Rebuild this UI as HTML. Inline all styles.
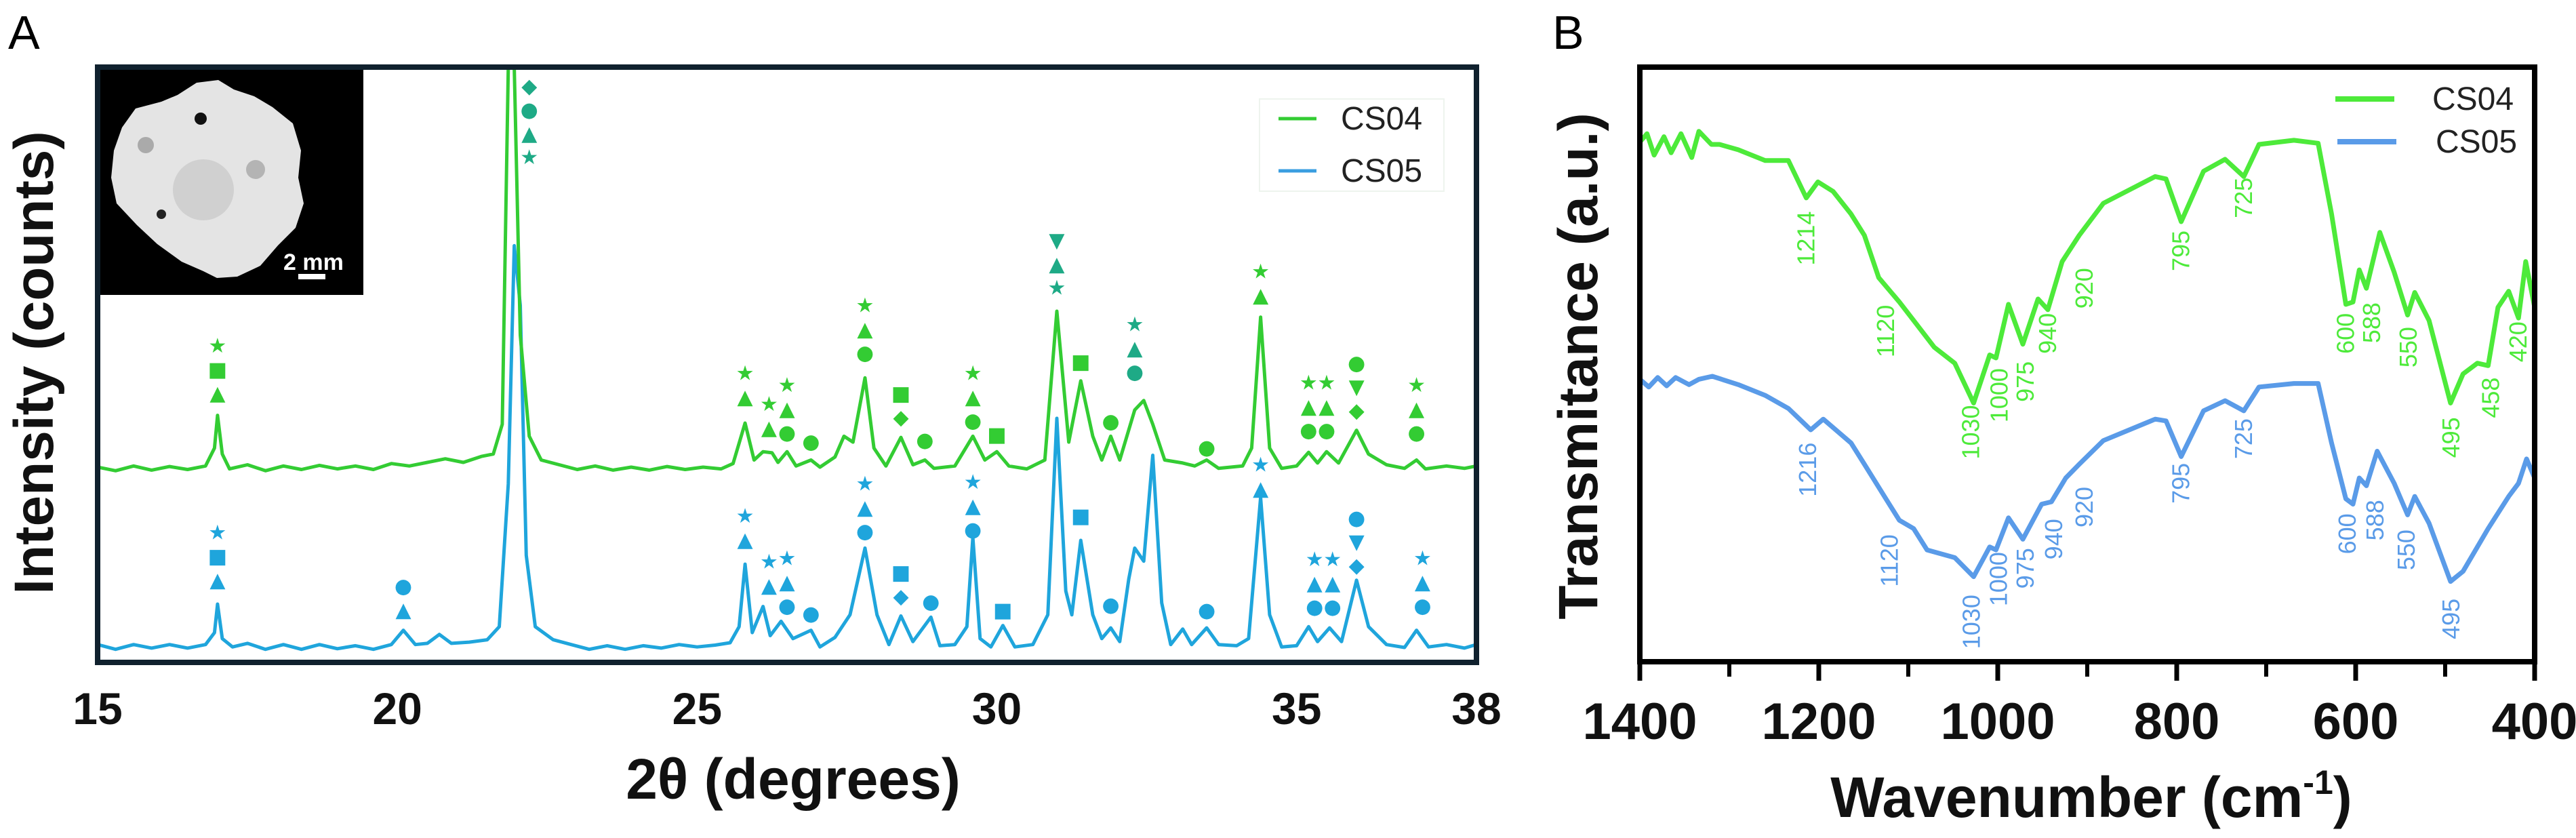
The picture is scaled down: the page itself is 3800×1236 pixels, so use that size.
<!DOCTYPE html>
<html><head><meta charset="utf-8">
<style>
html,body{margin:0;padding:0;background:#fff;}
svg{display:block;font-family:"Liberation Sans","DejaVu Sans",sans-serif;}
</style></head>
<body>
<svg id="fig" width="3800" height="1236" viewBox="0 0 3800 1236" xmlns="http://www.w3.org/2000/svg">
  <text x="12" y="72" font-size="70" fill="#000">A</text>
  <text x="2290" y="72" font-size="70" fill="#000">B</text>
  <g id="xrd"></g>
  <g id="ftir"></g>
</svg>
<script>
// ---------- XRD data ----------
const xrdTicks = [15, 20, 25, 30, 35, 38];
const cs04X = [15.0,15.3,15.6,15.9,16.2,16.5,16.8,16.95,17.0,17.08,17.2,17.5,17.8,18.1,18.4,18.7,19.0,19.3,19.6,19.9,20.2,20.5,20.8,21.1,21.4,21.6,21.75,21.85,21.95,22.05,22.2,22.4,22.7,23.0,23.3,23.6,23.9,24.2,24.5,24.8,25.1,25.4,25.6,25.8,25.95,26.1,26.25,26.35,26.5,26.65,26.9,27.05,27.3,27.45,27.6,27.8,27.95,28.15,28.4,28.6,28.8,28.95,29.3,29.6,29.8,30.0,30.2,30.5,30.8,31.0,31.2,31.4,31.6,31.75,31.9,32.05,32.3,32.45,32.6,32.8,33.1,33.3,33.5,33.7,34.1,34.25,34.4,34.55,34.75,35.0,35.2,35.35,35.5,35.7,36.0,36.2,36.5,36.8,37.0,37.15,37.5,37.8,38.0];
const cs04Y = [32.8,32.2,33.0,32.3,32.9,32.4,33.0,36,41.5,35,32.5,33.2,32.2,33.0,32.4,33.1,32.5,33.0,32.4,33.4,33.0,33.6,34.2,33.6,34.6,35.0,40,100,100,55,38,34,33.2,32.4,33.0,32.3,32.8,32.3,32.9,32.4,32.8,32.5,33.4,40.2,34,35.4,35.2,33.6,35.4,33,34,32.8,34.5,38,37,47.8,36,33,37.8,33.2,34,32.6,33,38,34,35.4,33,32.5,34,59,37,47.3,38,34,38,34,42.4,44,40,34,33.5,33,34,32.6,33,36,58,36,32.6,33,35.3,33.5,35.4,33.5,39,35,33.2,32.6,34,32.5,33,32.6,33];
const cs05X = [15.0,15.3,15.6,15.9,16.2,16.5,16.8,16.95,17.0,17.08,17.25,17.5,17.8,18.1,18.4,18.7,19.0,19.3,19.6,19.9,20.1,20.3,20.5,20.7,20.9,21.2,21.5,21.7,21.85,21.95,22.05,22.15,22.3,22.6,22.9,23.2,23.5,23.8,24.1,24.4,24.7,25.0,25.3,25.55,25.7,25.8,25.92,26.1,26.22,26.4,26.6,26.9,27.05,27.3,27.55,27.8,28.0,28.2,28.4,28.6,28.9,29.05,29.3,29.5,29.6,29.72,29.9,30.1,30.3,30.6,30.85,31.0,31.15,31.25,31.4,31.6,31.75,31.9,32.05,32.2,32.3,32.45,32.6,32.75,32.9,33.1,33.25,33.5,33.7,34.0,34.2,34.4,34.55,34.75,35.0,35.2,35.35,35.55,35.75,36.0,36.2,36.5,36.8,37.0,37.2,37.5,37.8,38.0];
const cs05Y = [3,2.2,3.0,2.4,3.0,2.4,3.0,5,9.8,4,2.6,3.2,2.2,3.0,2.2,3.0,2.3,2.8,2.2,3.0,5.4,3.0,3.2,4.7,3.2,3.4,3.8,6,30,70,60,18,6,3.8,3.0,2.2,2.8,2.2,2.8,2.4,3.0,2.6,2.9,3.3,6,16.5,5,9.4,4.5,6.9,4,5.4,2.6,4.2,8,19.2,8,3,7.8,3.5,7.6,2.8,3,6,21,4,2.6,6.2,2.6,3,8,41,12,8,20.5,8,4,5.8,3.5,14,19.2,17,34.8,10,3,5.6,3,5.8,3,2.8,4,27.7,8,2.6,2.8,6,3.5,5.8,3.5,13.8,6,3,2.5,5.4,2.6,3,2.4,3];
const annG_X = [17.0,22.2,25.8,26.2,26.5,26.9,27.8,28.4,28.8,29.6,30.0,31.0,31.4,31.9,32.3,33.5,34.4,35.2,35.5,36.0,37.0];
const annG_V = [53.3,96.9,48.7,43.5,46.7,37.2,60.1,45.3,37.5,48.7,38.4,71,50.6,40.6,56.9,36.2,65.8,47.1,47.1,50.4,46.7];
const annG_S = ["★■▲","◆●▲★","★▲","★▲","★▲●","●","★▲●","■◆","●","★▲●","■","▼▲★","■","●","★▲●","●","★▲","★▲●","★▲●","●▼◆","★▲●"];
const annG_T = [0,1,0,0,0,0,0,0,0,0,0,1,0,0,1,0,0,0,0,0,0];
const annB_X = [17.0,20.1,25.8,26.2,26.5,26.9,27.8,28.4,28.9,29.6,30.1,31.4,31.9,33.5,34.4,35.3,35.6,36.0,37.1];
const annB_V = [21.9,12.9,24.7,17,17.6,8.3,30.1,15.2,10.3,30.4,8.9,24.7,9.8,8.9,33.3,17.4,17.4,24.4,17.6];
const annB_S = ["★■▲","●▲","★▲","★▲","★▲●","●","★▲●","■◆","●","★▲●","■","■","●","●","★▲","★▲●","★▲●","●▼◆","★▲●"];

// ---------- FTIR data ----------
const ftirTicks = [1400,1200,1000,800,600,400];
const ftirMinor = [1300,1100,900,700,500];
const ftG_W = [1400,1392,1384,1373,1365,1354,1342,1334,1320,1311,1290,1260,1234,1214,1201,1184,1164,1149,1133,1110,1094,1071,1048,1027,1009,1002,988,972,955,944,928,909,882,824,812,795,770,746,725,708,669,642,627,611,603,596,588,573,557,542,534,518,494,480,464,452,441,429,418,410,400];
const ftG_T = [87.4,88.8,85.2,88.3,85.6,88.8,84.8,89.2,87.0,87.0,86.1,84.3,84.3,78.0,80.7,79.1,75.3,71.7,64.6,60.5,57.4,52.9,50.2,43.5,51.6,51.1,60.1,53.4,61.0,59.2,67.3,71.7,77.1,81.6,81.2,74.0,82.5,84.5,81.6,87.0,87.7,87.2,75.3,60.1,60.5,65.9,62.8,72.2,65.5,58.3,62.1,57.4,43.5,48.4,50.2,49.8,59.6,62.3,57.8,67.3,59.6];
const ftB_W = [1400,1390,1380,1370,1360,1345,1334,1319,1290,1260,1234,1209,1195,1164,1149,1125,1110,1094,1079,1048,1027,1009,1002,988,972,951,940,924,909,882,824,812,795,770,746,725,708,669,642,627,611,603,596,588,576,557,542,534,518,494,480,452,429,418,409,400];
const ftB_T = [47.5,46.2,47.8,46.4,47.8,46.6,47.5,48.0,46.6,44.8,42.6,39.0,40.8,36.8,33.2,27.4,23.8,22.4,18.8,17.5,14.3,19.3,18.8,24.2,20.6,26.5,26.9,30.9,33.2,37.2,40.8,40.5,34.5,42.2,43.9,42.2,46.2,46.8,46.8,36.8,27.4,26.5,30.9,29.6,35.4,30.0,24.7,27.8,23.3,13.5,15.2,22.4,27.8,30.0,34.1,30.9];
const labG_Text = ["1214","1120","1030","1000","975","940","920","795","725","600","588","550","495","458","420"];
const labG_W = [1214,1125,1030,998,969,944,903,795,725,611,582,541,493,449,418];
const labG_V = [71.2,55.6,38.6,44.8,47.1,55.2,62.8,69.1,78.0,55.2,57,52.9,37.7,44.4,53.8];
const labB_Text = ["1216","1120","1030","1000","975","940","920","795","725","600","588","550","495"];
const labB_W = [1212,1121,1029,999,969,937,903,795,725,609,578,543,493];
const labB_V = [32.3,17.0,6.7,13.9,15.7,20.6,26.0,30.0,37.5,21.5,23.8,18.8,7.2];

const NS = "http://www.w3.org/2000/svg";
function mk(tag, attrs, parent, txt){
  const e = document.createElementNS(NS, tag);
  for (const k in attrs) e.setAttribute(k, attrs[k]);
  if (txt !== undefined) e.textContent = txt;
  parent.appendChild(e);
  return e;
}

// ===== Panel A: XRD =====
(function(){
  const g = document.getElementById('xrd');
  const L=144, R=2178, T=99, B=977;
  const xS = v => L + (v-15)/(38-15)*(R-L);
  const yS = v => B - v/100*(B-T);

  const clip = mk('clipPath',{id:'clipA'},g);
  mk('rect',{x:L,y:T,width:R-L,height:B-T},clip);

  const inset = mk('g',{},g);
  
  
  mk('rect',{x:L,y:T,width:392,height:336,fill:'#000'},inset);
  mk('path',{d:'M200,160 L238,150 L262,140 L290,122 L322,118 L345,132 L375,142 L402,158 L432,182 L444,222 L440,262 L448,300 L436,336 L410,362 L384,392 L350,408 L320,410 L300,400 L268,386 L232,360 L202,332 L172,300 L164,262 L168,222 L180,188 Z',fill:'#e4e4e4'},inset);
  mk('circle',{cx:300,cy:280,r:45,fill:'#d0d0d0'},inset);
  mk('circle',{cx:296,cy:175,r:9,fill:'#111'},inset);
  mk('circle',{cx:215,cy:214,r:12,fill:'#aaa'},inset);
  mk('circle',{cx:377,cy:250,r:14,fill:'#b4b4b4'},inset);
  mk('circle',{cx:238,cy:316,r:7,fill:'#222'},inset);
  mk('text',{x:418,y:398,'font-size':34,'font-weight':'bold',fill:'#fff'},inset,'2 mm');
  mk('rect',{x:440,y:404,width:40,height:8,fill:'#fff'},inset);

  function line(xs, ys, color, name){
    let d='';
    for (let i=0;i<xs.length;i++) d += (i?'L':'M') + xS(xs[i]).toFixed(1)+','+yS(ys[i]).toFixed(1);
    const p = mk('path',{d:d,fill:'none',stroke:color,'stroke-width':5,'stroke-linejoin':'round','clip-path':'url(#clipA)'},g);
    
    
  }
  line(cs05X, cs05Y, '#1fa5dc', 'cs05-xrd-line');
  line(cs04X, cs04Y, '#33cc33', 'cs04-xrd-line');

  function ann(xs, vs, ss, col, teal, name){
    for (let i=0;i<xs.length;i++){
      const a = mk('g',{},g);
      
      
      const c = (teal && teal[i]) ? '#1eaa86' : col;
      const chars = Array.from(ss[i]);
      chars.forEach((ch,k)=>{
        mk('text',{x:xS(xs[i]),y:yS(vs[i])+k*35+11,'font-size':30,'text-anchor':'middle',fill:c,'font-family':'DejaVu Sans, sans-serif'},a,ch);
      });
    }
  }
  ann(annG_X, annG_V, annG_S, '#33cc33', annG_T, 'cs04-phase-marker');
  ann(annB_X, annB_V, annB_S, '#1fa5dc', null, 'cs05-phase-marker');

  const fr = mk('rect',{x:L,y:T,width:R-L,height:B-T,fill:'none',stroke:'#10212e','stroke-width':8},g);
  
  

  const lg = mk('g',{},g);
  
  
  mk('rect',{x:1858,y:146,width:272,height:136,fill:'#fff',stroke:'#eef4ee','stroke-width':2},lg);
  mk('line',{x1:1886,y1:175,x2:1942,y2:175,stroke:'#33cc33','stroke-width':5},lg);
  mk('text',{x:1978,y:191,'font-size':48,fill:'#222'},lg,'CS04');
  mk('line',{x1:1886,y1:252,x2:1942,y2:252,stroke:'#3a9ee0','stroke-width':5},lg);
  mk('text',{x:1978,y:268,'font-size':48,fill:'#222'},lg,'CS05');

  xrdTicks.forEach(t=>{
    const tl = mk('text',{x:xS(t),y:1068,'font-size':66,'font-weight':'bold','text-anchor':'middle',fill:'#111'},g,String(t));
    
    
  });
  const xt = mk('text',{x:1170,y:1178,'font-size':84,'font-weight':'bold','text-anchor':'middle',fill:'#111'},g,'2θ (degrees)');
  
  
  const yt = mk('text',{x:0,y:0,'font-size':82,'font-weight':'bold','text-anchor':'middle',fill:'#111',transform:'translate(78,535) rotate(-90)'},g,'Intensity (counts)');
  
  
})();

// ===== Panel B: FTIR =====
(function(){
  const g = document.getElementById('ftir');
  const L=2419, R=3739, T=99, B=976;
  const xS = w => L + (1400-w)/1000*(R-L);
  const yS = v => B - v/100*(B-T);

  function line(ws, ts, color, name){
    let d='';
    for (let i=0;i<ws.length;i++) d += (i?'L':'M') + xS(ws[i]).toFixed(1)+','+yS(ts[i]).toFixed(1);
    const p = mk('path',{d:d,fill:'none',stroke:color,'stroke-width':7,'stroke-linejoin':'round'},g);
    
    
  }
  line(ftG_W, ftG_T, '#4dea3a', 'cs04-ftir-line');
  line(ftB_W, ftB_T, '#5a9be8', 'cs05-ftir-line');

  function labels(txt, ws, vs, col, name){
    for (let i=0;i<txt.length;i++){
      const x = xS(ws[i]), y = yS(vs[i]);
      const t = mk('text',{x:0,y:0,'font-size':36,'text-anchor':'middle',fill:col,transform:'translate('+(x+12).toFixed(1)+','+y.toFixed(1)+') rotate(-90)'},g,txt[i]);
      
      
    }
  }
  labels(labG_Text, labG_W, labG_V, '#4dea3a', 'cs04-band-label');
  labels(labB_Text, labB_W, labB_V, '#5a9be8', 'cs05-band-label');

  const fr = mk('rect',{x:L,y:T,width:R-L,height:B-T,fill:'none',stroke:'#000','stroke-width':8},g);
  
  

  ftirTicks.forEach(t=>{
    mk('line',{x1:xS(t),y1:B,x2:xS(t),y2:B+28,stroke:'#000','stroke-width':7},g);
    const tl = mk('text',{x:xS(t),y:1090,'font-size':76,'font-weight':'bold','text-anchor':'middle',fill:'#111'},g,String(t));
    
    
  });
  ftirMinor.forEach(t=>{
    mk('line',{x1:xS(t),y1:B,x2:xS(t),y2:B+22,stroke:'#000','stroke-width':6},g);
  });

  const lg = mk('g',{},g);
  
  
  mk('line',{x1:3445,y1:146,x2:3532,y2:146,stroke:'#4dea3a','stroke-width':8},lg);
  mk('text',{x:3588,y:162,'font-size':48,fill:'#222'},lg,'CS04');
  mk('line',{x1:3448,y1:209,x2:3535,y2:209,stroke:'#5a9be8','stroke-width':8},lg);
  mk('text',{x:3593,y:225,'font-size':48,fill:'#222'},lg,'CS05');

  const xt = mk('text',{x:3085,y:1205,'font-size':84,'font-weight':'bold','text-anchor':'middle',fill:'#111'},g,'Wavenumber (cm');
  
  
  mk('tspan',{'font-size':50,dy:-34},xt,'-1');
  mk('tspan',{dy:34},xt,')');
  const yt = mk('text',{x:0,y:0,'font-size':82,'font-weight':'bold','text-anchor':'middle',fill:'#111',transform:'translate(2356,540) rotate(-90)'},g,'Transmitance (a.u.)');
  
  
})();
</script>
</body></html>
